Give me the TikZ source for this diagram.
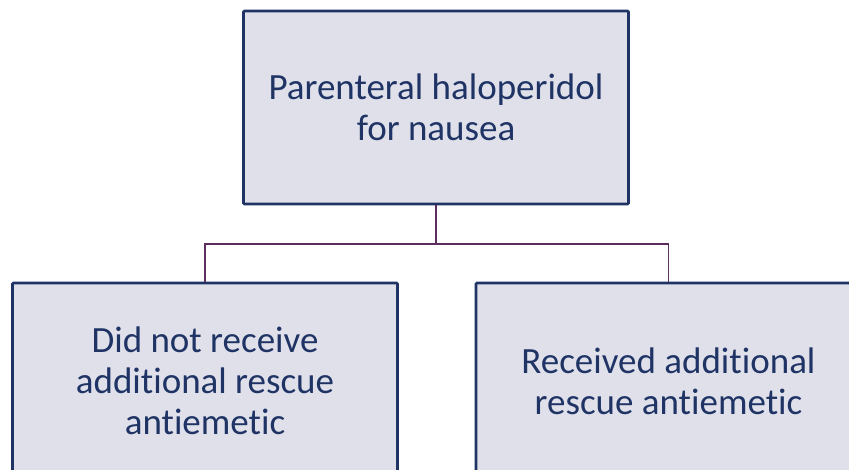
\documentclass[tikz,border=0pt]{standalone}
\usepackage{fontspec}
\setmainfont{Carlito}[Ligatures=NoCommon]
\definecolor{boxfill}{HTML}{DFE0EA}
\definecolor{boxdraw}{HTML}{1F3465}
\definecolor{txt}{HTML}{1F3465}
\definecolor{conn}{HTML}{5C2E5E}
\begin{document}
\begin{tikzpicture}[x=1pt,y=-1pt,
  box/.style={draw=boxdraw,fill=boxfill,line width=2.6pt,rounded corners=1pt,
    minimum width=385pt,text=txt,align=center,inner sep=0pt,
    font=\fontsize{37}{41}\selectfont},
  link/.style={draw=conn,line width=1.6pt}]
\useasboundingbox (0,0) rectangle (849,469);
\clip (0,0) rectangle (849,469);
\node[box,minimum height=193pt] (top) at (436,107.5) {Parenteral haloperidol\\for nausea};
\node[box,minimum height=196pt] (left) at (205,381) {Did not receive\\additional rescue\\antiemetic};
\node[box,minimum height=196pt] (right) at (668.5,381) {Received additional\\rescue antiemetic};
\coordinate (j) at (436,244);
\draw[link] (top.south) -- (j);
\draw[link] (j) -| (left.north);
\draw[link] (j) -| (right.north);
\end{tikzpicture}
\end{document}
